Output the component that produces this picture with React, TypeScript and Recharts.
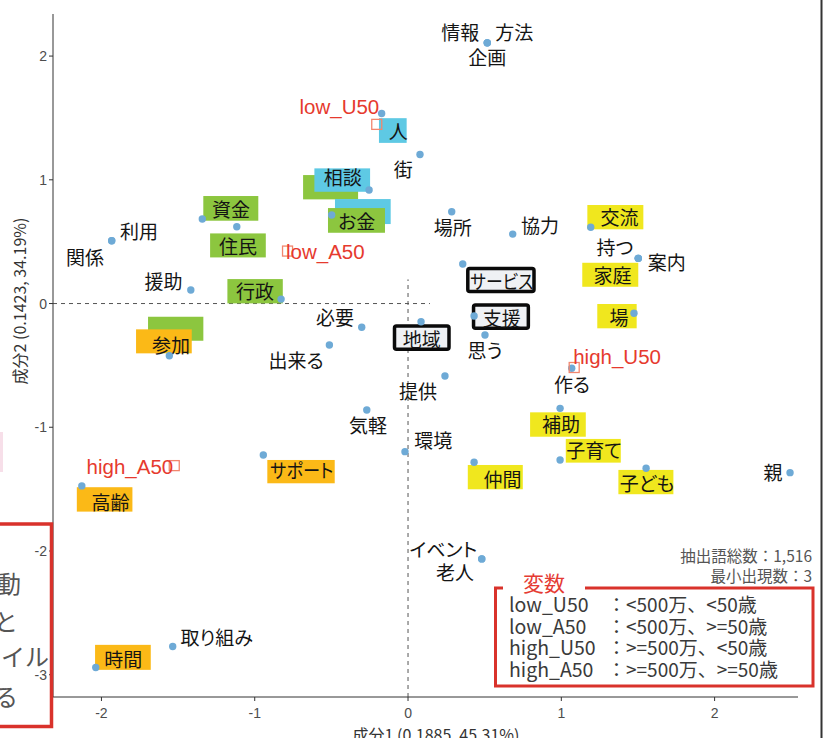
import React from "react";
import { ScatterChart, Scatter, XAxis, YAxis, ReferenceLine } from "recharts";

const FONT_JP = "'Noto Sans CJK JP', 'Noto Sans', sans-serif";
const FONT_LAT = "'Liberation Sans', Arial, sans-serif";

// ---- data ----
const wordNames = [
  "情報", "方法", "企画", "人", "街", "相談", "お金", "資金", "住民", "利用", "関係",
  "援助", "行政", "参加", "必要", "出来る", "地域", "サービス", "支援", "思う", "提供",
  "気軽", "環境", "サポート", "高齢", "時間", "取り組み", "イベント", "老人", "仲間",
  "子育て", "補助", "子ども", "親", "作る", "場", "案内", "持つ", "家庭", "交流", "協力", "場所",
];
const wordX = [
  0.517, 0.517, 0.517, -0.172, 0.078, -0.254, -0.498, -1.342, -1.117, -1.933, -1.933,
  -1.417, -0.828, -1.557, -0.302, -0.513, 0.085, 0.357, 0.431, 0.502, 0.241,
  -0.269, -0.02, -0.944, -2.128, -2.037, -1.535, 0.481, 0.481, 0.431,
  0.992, 0.992, 1.553, 2.492, 1.068, 1.474, 1.502, 1.502, 1.502, 1.192, 0.683, 0.285,
];
const wordY = [
  2.107, 2.107, 2.107, 1.536, 1.205, 0.917, 0.715, 0.683, 0.62, 0.507, 0.507,
  0.109, 0.036, -0.422, -0.192, -0.335, -0.147, 0.319, -0.101, -0.254, -0.586,
  -0.86, -1.197, -1.224, -1.474, -2.942, -2.772, -2.064, -2.064, -1.283,
  -1.264, -0.847, -1.331, -1.367, -0.523, -0.079, 0.365, 0.365, 0.365, 0.616, 0.561, 0.742,
];

const varNames = ["low_U50", "low_A50", "high_U50", "high_A50"];
const varX = [-0.204, -0.786, 1.084, -1.525];
const varY = [1.448, 0.424, -0.517, -1.31];
const varDesc = ["：<500万、<50歳", "：<500万、>=50歳", "：>=500万、<50歳", "：>=500万、>=50歳"];

const xTicks = [-2, -1, 0, 1, 2];
const yTicks = [-3, -2, -1, 0, 1, 2];
const X_DOMAIN: [number, number] = [-2.316, 2.544];
const Y_DOMAIN: [number, number] = [-3.18, 2.34];

const xTitle = "成分1 (0.1885, 45.31%)";
const yTitle = "成分2 (0.1423, 34.19%)";
const noteLines = ["抽出語総数：1,516", "最小出現数：3"];
const legendTitle = "変数";

// ---- styles / layout (pixel offsets of labels relative to their point) ----
const COLORS: Record<string, string> = {
  green: "#8cc63f",
  cyan: "#5ec9e4",
  yellow: "#f0e71e",
  orange: "#fbb917",
};
type Box = [string, number, number, number, number];
const labelLayout: Record<string, { dx: number; dy: number; boxes?: Box[]; len?: number }> = {
  情報: { dx: -27, dy: -11 },
  方法: { dx: 27, dy: -11 },
  企画: { dx: 0, dy: 14 },
  人: { dx: 16.6, dy: 16.7, boxes: [["cyan", -2.7, 4.7, 25, 29.4]] },
  街: { dx: -16.7, dy: 14 },
  相談: { dx: -26.3, dy: -13.3, boxes: [["green", -66, -15, -11, 9.3], ["cyan", -54.7, -21.7, 1, 1.7]] },
  お金: { dx: 25, dy: 5, boxes: [["cyan", 3.3, -16, 59, 9], ["green", -3.7, -7, 53.3, 17.7]] },
  資金: { dx: 28.7, dy: -11, boxes: [["green", 1, -23, 56, 1.7]] },
  住民: { dx: 1.3, dy: 18.3, boxes: [["green", -26.7, 6.6, 29, 30.6]] },
  利用: { dx: 27.3, dy: -10.7 },
  関係: { dx: -26.7, dy: 16 },
  援助: { dx: -27.4, dy: -10 },
  行政: { dx: -26, dy: -9, boxes: [["green", -53.7, -20, 1.7, 4.3]] },
  参加: { dx: 1.7, dy: -11.7, boxes: [["green", -21.3, -39, 34, -15], ["orange", -33.3, -26.4, 22.4, -2.4]] },
  必要: { dx: -26.7, dy: -10.6 },
  出来る: { dx: -33.3, dy: 15 },
  地域: { dx: 0.7, dy: 16.3, boxes: [["frame", -28.3, 2.6, 29.7, 29.3]] },
  サービス: { dx: 39, dy: 16, boxes: [["frame", 3.3, 2.7, 73, 29.3]], len: 63 },
  支援: { dx: 27.7, dy: 1, boxes: [["frame", -2.3, -12.7, 56, 14]] },
  思う: { dx: 0, dy: 15 },
  提供: { dx: -27, dy: 14 },
  気軽: { dx: 1.3, dy: 15 },
  環境: { dx: 28.3, dy: -11.7 },
  サポート: { dx: 38.4, dy: 15, boxes: [["orange", 4, 5, 71.4, 28.3]], len: 63 },
  高齢: { dx: 28.8, dy: 15.7, boxes: [["orange", -5, 1.3, 50.6, 25.7]] },
  時間: { dx: 27.6, dy: -9.4, boxes: [["orange", -0.7, -22.7, 55, 2.3]] },
  取り組み: { dx: 44, dy: -10 },
  イベント: { dx: -38.4, dy: -10.7 },
  老人: { dx: -26.7, dy: 12.7 },
  仲間: { dx: 28.5, dy: 16, boxes: [["yellow", -6.3, 2.7, 48.7, 27]] },
  子育て: { dx: 34, dy: -10, boxes: [["yellow", 5.7, -21, 60.7, 2.7]] },
  補助: { dx: 1, dy: 15, boxes: [["yellow", -30, 4, 25.7, 28.4]] },
  子ども: { dx: 1, dy: 14.4, boxes: [["yellow", -27.7, 1.7, 27.3, 26]] },
  親: { dx: -17, dy: -0.7 },
  作る: { dx: 0.3, dy: 15.7 },
  場: { dx: -15, dy: 2.7, boxes: [["yellow", -36.7, -9.3, 2.7, 15]] },
  案内: { dx: 28.4, dy: 3.4 },
  持つ: { dx: -23.3, dy: -12.3 },
  家庭: { dx: -25.8, dy: 16, boxes: [["yellow", -56, 4.4, 0, 28.4]] },
  交流: { dx: 28.8, dy: -11.3, boxes: [["yellow", -3.4, -22.3, 52.6, 2]] },
  協力: { dx: 27.3, dy: -9.7 },
  場所: { dx: 1, dy: 14.3 },
};
const varLayout: Record<string, { anchor: "start" | "end"; dx: number; dy: number }> = {
  low_U50: { anchor: "end", dx: 2.5, dy: -10 },
  low_A50: { anchor: "start", dx: -1.5, dy: 8 },
  high_U50: { anchor: "start", dx: -1, dy: -3.5 },
  high_A50: { anchor: "end", dx: -1, dy: 8.6 },
};

const renderLabel = (props: any) => {
  const { cx, cy, payload } = props;
  const lay = labelLayout[payload.name] || { dx: 0, dy: 0 };
  const extra: any = lay.len ? { textLength: lay.len, lengthAdjust: "spacingAndGlyphs" } : {};
  return (
    <g>
      {(lay.boxes || []).map((b, i) => {
        const [kind, x0, y0, x1, y1] = b;
        if (kind === "frame") {
          return (
            <rect key={i} x={cx + x0 + 1.75} y={cy + y0 + 1.75} width={x1 - x0 - 3.5} height={y1 - y0 - 3.5}
              rx={2} fill="#eff1f4" stroke="#0a0a0a" strokeWidth={3.5} />
          );
        }
        return <rect key={i} x={cx + x0} y={cy + y0} width={x1 - x0} height={y1 - y0} fill={COLORS[kind]} />;
      })}
      <text x={cx + lay.dx} y={cy + lay.dy} textAnchor="middle" dominantBaseline="central"
        fontFamily={FONT_JP} fontSize={19} fill="#141414" style={{ fontFeatureSettings: '"palt"' }} {...extra}>
        {payload.name}
      </text>
    </g>
  );
};

const renderDot = (props: any) => {
  const { cx, cy } = props;
  return <circle cx={cx} cy={cy} r={3.7} fill="#6eaad6" />;
};

const renderVar = (props: any) => {
  const { cx, cy, payload } = props;
  const lay = varLayout[payload.name];
  return (
    <g>
      <rect x={cx - 5} y={cy - 5} width={10} height={10} fill="none" stroke="#f2866e" strokeWidth={1.3} />
      <text x={cx + lay.dx} y={cy + lay.dy} textAnchor={lay.anchor} fontFamily={FONT_LAT}
        fontSize={20.5} fill="#e63a2e">
        {payload.name}
      </text>
    </g>
  );
};

export default function App() {
  const wordData = wordNames.map((name, i) => ({ name, x: wordX[i], y: wordY[i] }));
  const varData = varNames.map((name, i) => ({ name, x: varX[i], y: varY[i] }));
  const tickStyle = { fill: "#4d4d4d", fontSize: 14, fontFamily: FONT_LAT };
  return (
    <div style={{ position: "fixed", left: 0, top: 0, width: 828, height: 738, overflow: "hidden", background: "#fff" }}>
      <ScatterChart width={828} height={738} margin={{ top: 14, right: 30, bottom: 0, left: 0 }}>
        <XAxis type="number" dataKey="x" domain={X_DOMAIN} ticks={xTicks} allowDataOverflow height={41}
          tickSize={4} tickMargin={7} tick={tickStyle} axisLine={{ stroke: "#333" }} tickLine={{ stroke: "#333" }} />
        <YAxis type="number" dataKey="y" domain={Y_DOMAIN} ticks={yTicks} allowDataOverflow width={53}
          tickSize={4} tickMargin={2} tick={tickStyle} axisLine={{ stroke: "#333" }} tickLine={{ stroke: "#333" }} />
        <Scatter data={wordData} shape={renderLabel} isAnimationActive={false} />
        <ReferenceLine segment={[{ x: X_DOMAIN[0], y: 0 }, { x: 0.143, y: 0 }]} stroke="#555" strokeDasharray="4 4" />
        <ReferenceLine segment={[{ x: 0, y: Y_DOMAIN[0] }, { x: 0, y: 0.195 }]} stroke="#555" strokeDasharray="4 4" />
        <Scatter data={wordData} shape={renderDot} isAnimationActive={false} />
        <Scatter data={varData} shape={renderVar} isAnimationActive={false} />
      </ScatterChart>
      <svg width={828} height={738} style={{ position: "absolute", left: 0, top: 0, pointerEvents: "none" }}>
        {/* axis titles */}
        <text x={436} y={741} textAnchor="middle" fontFamily={FONT_JP} fontSize={16} fill="#333">{xTitle}</text>
        <text x={0} y={0} transform="translate(26,301) rotate(-90)" textAnchor="middle" fontFamily={FONT_JP}
          fontSize={16} fill="#333">{yTitle}</text>
        {/* notes */}
        <text x={812} y={562} textAnchor="end" fontFamily={FONT_JP} fontSize={15.5} fill="#555">{noteLines[0]}</text>
        <text x={812} y={582} textAnchor="end" fontFamily={FONT_JP} fontSize={15.5} fill="#555">{noteLines[1]}</text>
        {/* legend */}
        <rect x={495.5} y={588} width={317.5} height={98} fill="#fff" stroke="#d9322b" strokeWidth={3} />
        <rect x={503} y={580} width={82} height={14} fill="#fff" />
        <text x={544} y={591} textAnchor="middle" fontFamily={FONT_JP} fontSize={21} fill="#e53b33">{legendTitle}</text>
        {varNames.map((v, i) => (
          <g key={v}>
            <text x={509} y={612 + i * 21.7} fontFamily={FONT_JP} fontSize={19.5} fill="#3a3a3a">{v}</text>
            <text x={607} y={612 + i * 21.7} fontFamily={FONT_JP} fontSize={19} fill="#3a3a3a">{varDesc[i]}</text>
          </g>
        ))}
        {/* fragment of a neighbouring panel at the left edge */}
        <rect x={0} y={432} width={3} height={40} fill="#f7dfe9" />
        <rect x={-10} y={524} width={61.5} height={202.5} fill="none" stroke="#d9322b" strokeWidth={3.5} />
        <text x={21} y={593} textAnchor="end" fontFamily={FONT_JP} fontSize={24} fill="#555">動</text>
        <text x={18} y={631} textAnchor="end" fontFamily={FONT_JP} fontSize={24} fill="#555">と</text>
        <text x={49} y={666} textAnchor="end" fontFamily={FONT_JP} fontSize={24} fill="#555">イル</text>
        <text x={18} y={706} textAnchor="end" fontFamily={FONT_JP} fontSize={24} fill="#555">る</text>
        {/* frame line at right edge */}
        <line x1={821.5} y1={0} x2={821.5} y2={738} stroke="#333" strokeWidth={2} />
      </svg>
    </div>
  );
}
